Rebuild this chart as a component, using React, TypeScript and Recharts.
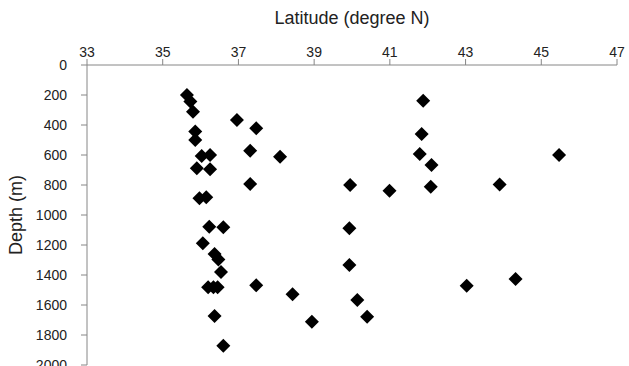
import React from 'react';
import { ScatterChart, Scatter, XAxis, YAxis } from 'recharts';

// latitude (degree N) and depth (m) of each sample
const latitude = [
    35.64, 35.73, 35.8, 36.96, 37.47, 35.86, 35.86, 36.03, 36.25, 37.31, 38.1, 35.9, 36.25, 37.31, 35.97, 36.15,
    36.23, 36.6, 36.06, 36.37, 36.47, 36.54, 36.2, 36.34, 36.45, 37.47, 36.37, 36.6,
    39.95, 40.99, 39.93, 39.93, 38.43, 40.14, 40.4, 38.94,
    41.88, 41.84, 41.79, 42.1, 42.08, 43.9, 45.47, 43.03, 44.32,
];
const depth = [
    200, 244, 311, 367, 422, 444, 500, 607, 600, 571, 611, 689, 695, 793, 889, 882,
    1078, 1082, 1189, 1260, 1296, 1380, 1482, 1482, 1482, 1469, 1673, 1871,
    800, 838, 1089, 1333, 1529, 1567, 1678, 1711,
    238, 460, 593, 667, 811, 796, 600, 1471, 1427,
];
const latTicks = [33, 35, 37, 39, 41, 43, 45, 47];
const depthTicks = [0, 200, 400, 600, 800, 1000, 1200, 1400, 1600, 1800, 2000];

const points = latitude.map((lat, i) => ({ lat, depth: depth[i] }));

const axisColor = '#868686';
const textColor = '#222';

const Diamond = (props: any) => {
    const { cx, cy } = props;
    const r = 7;
    return <polygon points={`${cx},${cy - r} ${cx + r},${cy} ${cx},${cy + r} ${cx - r},${cy}`} fill="#000" />;
};

export default function App() {
    return (
        <div style={{ position: 'absolute', left: 0, top: 0, width: 629, height: 366, overflow: 'hidden', background: '#fff' }}>
            <ScatterChart width={629} height={380} margin={{ top: 0, right: 12, bottom: 15, left: 0 }}>
                <XAxis
                    type="number"
                    dataKey="lat"
                    orientation="top"
                    domain={[33, 47]}
                    ticks={latTicks}
                    height={65}
                    stroke={axisColor}
                    tickSize={6}
                    tickMargin={2}
                    tick={{ fill: textColor, fontSize: 14, fontFamily: 'Liberation Sans, Arial, sans-serif' }}
                    label={{
                        value: 'Latitude (degree N)',
                        position: 'insideTop',
                        offset: 11,
                        style: { fill: textColor, fontSize: 18, fontFamily: 'Liberation Sans, Arial, sans-serif' },
                    }}
                />
                <YAxis
                    type="number"
                    dataKey="depth"
                    reversed
                    domain={[0, 2000]}
                    ticks={depthTicks}
                    width={87}
                    stroke={axisColor}
                    tickSize={6}
                    tickMargin={14}
                    tick={{ fill: textColor, fontSize: 14, fontFamily: 'Liberation Sans, Arial, sans-serif' }}
                    label={{
                        value: 'Depth (m)',
                        angle: -90,
                        position: 'insideLeft',
                        offset: 16,
                        style: { textAnchor: 'middle', fill: textColor, fontSize: 18, fontFamily: 'Liberation Sans, Arial, sans-serif' },
                    }}
                />
                <Scatter data={points} shape={Diamond} isAnimationActive={false} />
            </ScatterChart>
        </div>
    );
}
